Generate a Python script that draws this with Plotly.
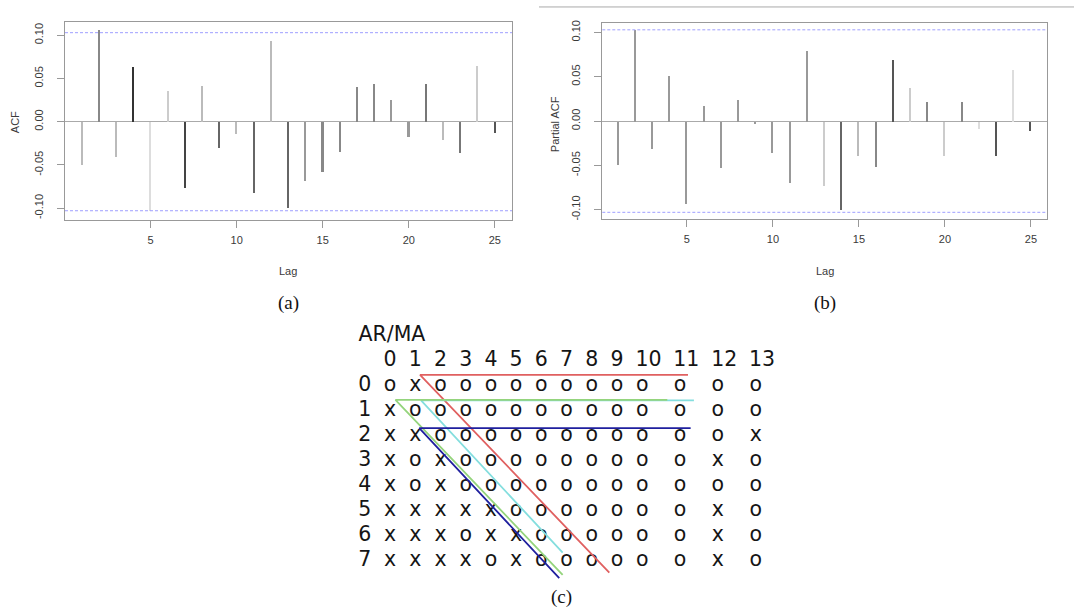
import plotly.graph_objects as go

# ---------------- data ----------------
lags = list(range(1, 26))
acf_values = [-0.050, 0.106, -0.041, 0.064, -0.103, 0.036, -0.077, 0.041, -0.030, -0.014,
              -0.082, 0.094, -0.100, -0.068, -0.058, -0.035, 0.040, 0.044, 0.025, -0.017,
              0.044, -0.021, -0.036, 0.065, -0.013]
pacf_values = [-0.049, 0.103, -0.031, 0.051, -0.093, 0.017, -0.052, 0.024, -0.003, -0.036,
               -0.069, 0.080, -0.073, -0.100, -0.039, -0.051, 0.069, 0.038, 0.022, -0.039,
               0.022, -0.008, -0.039, 0.058, -0.011]
conf_limit = 0.103
y_tick_vals = [-0.10, -0.05, 0.0, 0.05, 0.10]
y_tick_text = ["-0.10", "-0.05", "0.00", "0.05", "0.10"]
x_tick_vals = [5, 10, 15, 20, 25]

ar_orders = list(range(8))
ma_orders = list(range(14))
eacf_rows = ["oxoooooooooooo",
             "xooooooooooooo",
             "xxooooooooooox",
             "xoxoooooooooxo",
             "xoxooooooooooo",
             "xxxxxoooooooxo",
             "xxxoxxooooooxo",
             "xxxxoxooooooxo"]

# triangle guide lines (table units: character column, row)
red_line_x = [25.63, 4.38, 19.39]
red_line_y = [-0.43, -0.43, 7.46]
cyan_line_x = [26.10, 4.46, 15.69]
cyan_line_y = [0.59, 0.59, 6.66]
green_line_x = [23.99, 2.43, 15.69]
green_line_y = [0.57, 0.57, 7.55]
blue_line_x = [25.84, 4.32, 15.42]
blue_line_y = [1.70, 1.70, 7.68]

# ---------------- styles ----------------
acf_colors = ["#bbbbbb", "#888888", "#bbbbbb", "#333333", "#dddddd", "#cccccc", "#444444", "#bbbbbb",
              "#666666", "#bbbbbb", "#666666", "#bbbbbb", "#666666", "#999999", "#888888", "#888888",
              "#888888", "#888888", "#999999", "#999999", "#777777", "#bbbbbb", "#777777", "#cccccc",
              "#555555"]
pacf_colors = ["#999999"] * 12 + ["#cccccc", "#666666", "#bbbbbb", "#888888", "#555555", "#cccccc",
                                  "#888888", "#cccccc", "#888888", "#dddddd", "#555555", "#dddddd",
                                  "#555555"]

W, H = 1074, 610
AX_FONT = dict(family="Liberation Sans, Arial", size=11, color="#3a3a3a")

fig = go.Figure()

fig.add_trace(go.Bar(x=lags, y=acf_values, width=0.09, marker=dict(color=acf_colors, line=dict(width=0)),
                     xaxis="x", yaxis="y", showlegend=False))
fig.add_trace(go.Bar(x=lags, y=pacf_values, width=0.09, marker=dict(color=pacf_colors, line=dict(width=0)),
                     xaxis="x2", yaxis="y2", showlegend=False))

# ---------- EACF table ----------
# character offsets following R's print layout of the table
col_offsets = []
pos = 2
for j in ma_orders:
    col_offsets.append(pos)
    pos += len(str(j)) + 1

TXT_FONT = dict(family="DejaVu Sans", size=20.5, color="#151515")

cell_x, cell_y, cell_t = [], [], []
for r in ar_orders:
    for j in ma_orders:
        cell_x.append(col_offsets[j])
        cell_y.append(r)
        cell_t.append(eacf_rows[r][j])

hdr_x = [col_offsets[j] + (len(str(j)) - 1) / 2 for j in ma_orders]
fig.add_trace(go.Scatter(x=hdr_x, y=[-1] * len(ma_orders), text=[str(j) for j in ma_orders],
                         mode="text", textfont=TXT_FONT, textposition="middle center",
                         xaxis="x3", yaxis="y3", showlegend=False, hoverinfo="skip"))
fig.add_trace(go.Scatter(x=[0] * len(ar_orders), y=ar_orders, text=[str(r) for r in ar_orders],
                         mode="text", textfont=TXT_FONT, textposition="middle center",
                         xaxis="x3", yaxis="y3", showlegend=False, hoverinfo="skip"))
fig.add_trace(go.Scatter(x=[-0.5], y=[-2], text=["AR/MA"], mode="text", textfont=TXT_FONT,
                         textposition="middle right", xaxis="x3", yaxis="y3", showlegend=False,
                         hoverinfo="skip"))
fig.add_trace(go.Scatter(x=cell_x, y=cell_y, text=cell_t, mode="text", textfont=TXT_FONT,
                         textposition="middle center", xaxis="x3", yaxis="y3", showlegend=False,
                         hoverinfo="skip"))

for lx, ly, col in [(red_line_x, red_line_y, "#e06060"),
                    (cyan_line_x, cyan_line_y, "#84dede"),
                    (green_line_x, green_line_y, "#94d47c"),
                    (blue_line_x, blue_line_y, "#1f1f9e")]:
    fig.add_trace(go.Scatter(x=lx, y=ly, mode="lines", line=dict(color=col, width=1.8),
                             xaxis="x3", yaxis="y3", showlegend=False, hoverinfo="skip"))

# ---------- layout ----------
def px_dom_x(a, b):
    return [a / W, b / W]

def px_dom_y(top, bottom):
    return [1 - bottom / H, 1 - top / H]

common_x = dict(showgrid=False, zeroline=False, showline=True, mirror=True, linecolor="#999999",
                linewidth=1, ticks="outside", ticklen=7, tickcolor="#999999", tickvals=x_tick_vals,
                tickfont=AX_FONT, ticklabelstandoff=3)
common_y = dict(showgrid=False, zeroline=True, zerolinecolor="#aaaaaa", zerolinewidth=1,
                showline=True, mirror=True, linecolor="#999999", linewidth=1, ticks="outside",
                ticklen=7, tickcolor="#999999", tickvals=y_tick_vals, ticktext=y_tick_text,
                tickangle=-90, tickfont=AX_FONT, ticklabelstandoff=10)

# table calibration: char k centre at 364.8 + 12.61k px; row r at 386.1 + 25.24r px
tx0, tdx, ty0, tdy = 364.8, 12.61, 386.1, 25.24
tab_left, tab_right, tab_top, tab_bottom = 322.0, 806.0, 317.0, 598.0

fig.update_layout(
    width=W, height=H, margin=dict(l=0, r=0, t=0, b=0),
    paper_bgcolor="white", plot_bgcolor="white", bargap=0,
    xaxis=dict(domain=px_dom_x(65, 512), range=[0.02, 26.0], anchor="y", **common_x),
    yaxis=dict(domain=px_dom_y(20, 219), range=[-0.1132, 0.1155], anchor="x", **common_y),
    xaxis2=dict(domain=px_dom_x(602.3, 1047.3), range=[0.08, 25.95], anchor="y2", **common_x),
    yaxis2=dict(domain=px_dom_y(20.7, 218.3), range=[-0.1104, 0.1112], anchor="x2", **common_y),
    xaxis3=dict(domain=px_dom_x(tab_left, tab_right),
                range=[(tab_left - tx0) / tdx, (tab_right - tx0) / tdx],
                visible=False, anchor="y3"),
    yaxis3=dict(domain=px_dom_y(tab_top, tab_bottom),
                range=[(tab_bottom - ty0) / tdy, (tab_top - ty0) / tdy],
                visible=False, anchor="x3"),
)

for xr, yr in [("x domain", "y"), ("x2 domain", "y2")]:
    for v in (conf_limit, -conf_limit):
        fig.add_shape(type="line", xref=xr, yref=yr, x0=0, x1=1, y0=v, y1=v,
                      line=dict(color="#9f9fff", width=1, dash="3px,2px"))

fig.add_shape(type="line", xref="paper", yref="paper", x0=539 / W, x1=1, y0=1 - 5 / H, y1=1 - 5 / H,
              line=dict(color="#aaaaaa", width=1))

def ann(text, x, y, size=11, angle=0, family="Liberation Sans, Arial", color="#3a3a3a"):
    fig.add_annotation(text=text, x=x / W, y=1 - y / H, xref="paper", yref="paper", showarrow=False,
                       textangle=angle, xanchor="center", yanchor="middle",
                       font=dict(family=family, size=size, color=color))

ann("ACF", 15, 121, angle=-90)
ann("Partial ACF", 555, 123, angle=-90)
ann("Lag", 287.5, 271)
ann("Lag", 825, 271)
ann("(a)", 288, 303, size=19, family="Liberation Serif, Times New Roman", color="#111111")
ann("(b)", 825, 303, size=19, family="Liberation Serif, Times New Roman", color="#111111")
ann("(c)", 561, 599, size=19, family="Liberation Serif, Times New Roman", color="#111111")

fig.write_html("out.html")
